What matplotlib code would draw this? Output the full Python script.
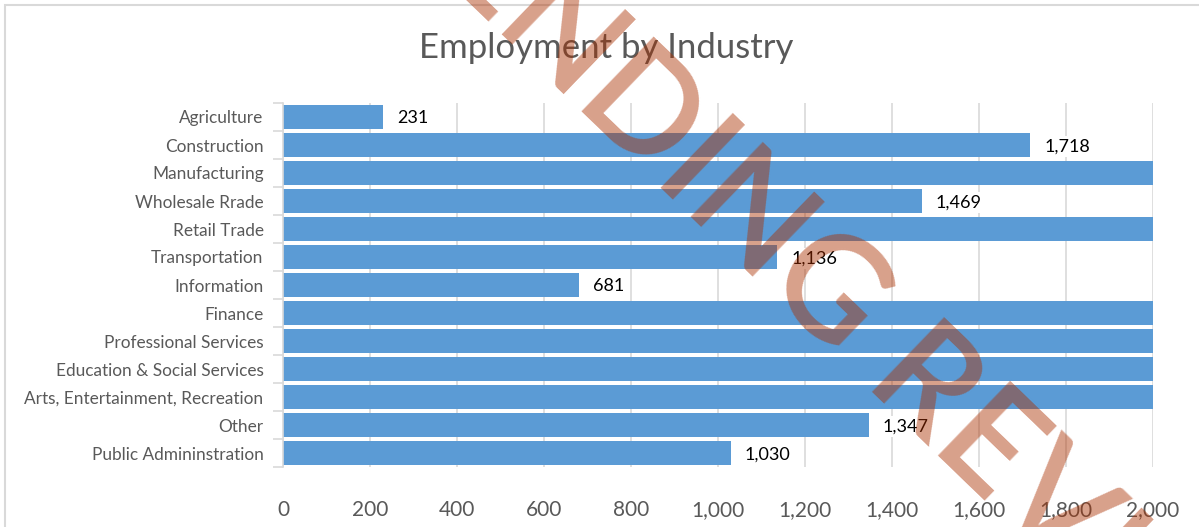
import matplotlib
matplotlib.use("Agg")
import matplotlib.pyplot as plt
from matplotlib.patches import Rectangle
from matplotlib.ticker import FuncFormatter, MultipleLocator
import numpy as np

categories = ["Agriculture", "Construction", "Manufacturing", "Wholesale Rrade",
              "Retail Trade", "Transportation", "Information", "Finance",
              "Professional Services", "Education & Social Services",
              "Arts, Entertainment, Recreation", "Other", "Public Admininstration"]
# bars that run past 2,000 are clipped in the reference; their values are estimates
values = [231, 1718, 2400, 1469, 2600, 1136, 681, 2300, 2500, 2800, 2200, 1347, 1030]
xticks = [0, 200, 400, 600, 800, 1000, 1200, 1400, 1600, 1800, 2000]

plt.rcParams['font.family'] = ['Lato', 'DejaVu Sans']
W, H = 1199, 527
fig = plt.figure(figsize=(W / 100, H / 100), dpi=100)
fig.patch.set_facecolor("white")

# chart border
fig.add_artist(Rectangle((5 / W, -0.1), 1.2, 1 - 5 / H + 0.1, transform=fig.transFigure,
                         fill=False, edgecolor="#d9d9d9", linewidth=1.5))

ax = fig.add_axes([283 / W, 1 - 467 / H, (1153 - 283) / W, (467 - 103) / H])
y = np.arange(len(categories))
ax.barh(y, values, height=0.86, color="#5B9BD5", zorder=2)
ax.set_xlim(0, 2000)
ax.set_ylim(len(categories) - 0.5, -0.5)
ax.set_xticks(xticks)
ax.xaxis.set_major_formatter(FuncFormatter(lambda v, p: f"{int(v):,}"))
ax.grid(axis="x", color="#d9d9d9", linewidth=1.2, zorder=0)
ax.set_axisbelow(True)
ax.set_yticks(y)
ax.set_yticklabels(categories)
ax.yaxis.set_minor_locator(MultipleLocator(1, offset=0.5))
ax.tick_params(axis="y", which="major", length=0, pad=14, labelsize=12.4, labelcolor="#595959")
ax.tick_params(axis="y", which="minor", length=7, color="#d9d9d9", width=1.2)
ax.tick_params(axis="x", length=0, pad=24, labelsize=15, labelcolor="#595959")
for s in ["top", "right", "bottom"]:
    ax.spines[s].set_visible(False)
ax.spines["left"].set_color("#d9d9d9")
ax.spines["left"].set_linewidth(1.2)

for yi, v in zip(y, values):
    if v < 2000:
        ax.text(v + 32, yi + 0.05, f"{v:,}", va="center", ha="left", fontsize=13,
                color="black", zorder=3, clip_on=True,
                bbox=dict(facecolor="white", edgecolor="none", pad=1.5))

fig.text(606 / W, 1 - 48 / H, "Employment by Industry", ha="center", va="center",
         fontsize=25, color="#595959")

# watermark
fig.text(842 / W, 1 - 306 / H, "PENDING REVIEW", ha="center", va="center",
         rotation=-44, rotation_mode="anchor", fontsize=104, color="#AB3000",
         fontweight=600, alpha=0.46, zorder=10)

fig.savefig("out.png", dpi=100)
